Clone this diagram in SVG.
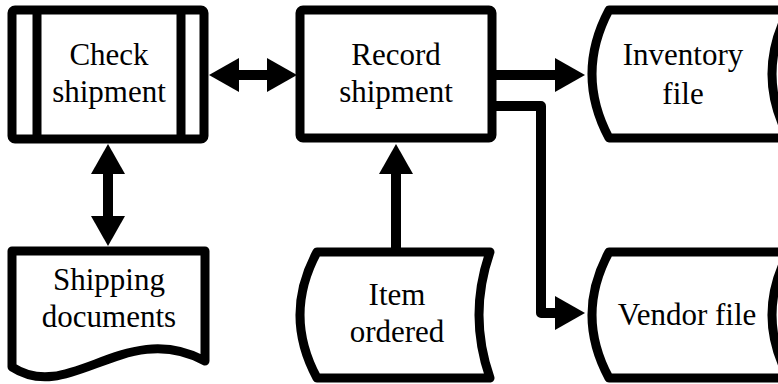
<svg xmlns="http://www.w3.org/2000/svg" width="778" height="384" viewBox="0 0 778 384">
<style>
.shape{fill:#fff;stroke:#000;stroke-width:9;stroke-linejoin:round}
.inner{fill:none;stroke:#000;stroke-width:9}
.conn{fill:none;stroke:#000;stroke-width:10;stroke-linejoin:round}
text{font-family:"Liberation Serif","Times New Roman",serif;font-size:31px;fill:#000;text-anchor:middle}
</style>
<defs>
<marker id="ah" markerUnits="userSpaceOnUse" viewBox="0 -17 30 34" markerWidth="30" markerHeight="34" refX="1" refY="0" orient="auto-start-reverse">
<path d="M0,-17 L30,0 L0,17 z" fill="#000"/>
</marker>
</defs>
<g id="connectors">
<line class="conn" x1="238" y1="75" x2="268" y2="75" marker-start="url(#ah)" marker-end="url(#ah)"/>
<line class="conn" x1="108" y1="173" x2="108" y2="217" marker-start="url(#ah)" marker-end="url(#ah)"/>
<line class="conn" x1="396" y1="252" x2="396" y2="173" marker-end="url(#ah)"/>
<line class="conn" x1="496" y1="75" x2="556" y2="75" marker-end="url(#ah)"/>
<path class="conn" d="M496,106 H541 V313 H556" marker-end="url(#ah)"/>
</g>
<g id="check-shipment">
<rect class="shape" x="12" y="10" width="192" height="129" rx="3"/>
<line class="inner" x1="37" y1="10" x2="37" y2="139"/>
<line class="inner" x1="181" y1="10" x2="181" y2="139"/>
<text x="109" y="65">Check</text>
<text x="109" y="102">shipment</text>
</g>
<g id="record-shipment">
<rect class="shape" x="300" y="10" width="192" height="128" rx="3"/>
<text x="396" y="65">Record</text>
<text x="396" y="102">shipment</text>
</g>
<g id="inventory-file">
<path class="shape" d="M609,10 H789 Q755,74 789,138 H609 Q575,74 609,10 z"/>
<text x="683" y="65">Inventory</text>
<text x="683" y="104">file</text>
</g>
<g id="shipping-documents">
<path class="shape" d="M12,251 H205 V361 C125,318 70,405 12,367 z"/>
<text x="109" y="290">Shipping</text>
<text x="109" y="327">documents</text>
</g>
<g id="item-ordered">
<path class="shape" d="M317,252 H490 Q468,315 490,378 H317 Q283,315 317,252 z"/>
<text x="397" y="305">Item</text>
<text x="397" y="342">ordered</text>
</g>
<g id="vendor-file">
<path class="shape" d="M609,252 H789 Q755,315 789,378 H609 Q575,315 609,252 z"/>
<text x="687" y="325">Vendor file</text>
</g>
</svg>
